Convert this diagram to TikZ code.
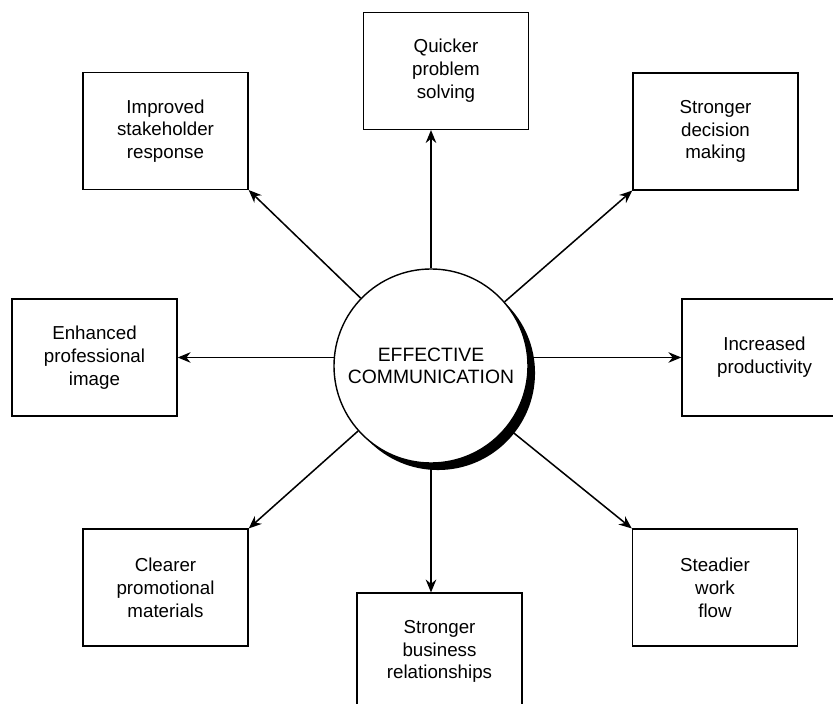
\documentclass[tikz,border=0pt]{standalone}
\usepackage{fontspec}
\setmainfont{Liberation Sans}
\usetikzlibrary{arrows.meta}
\usetikzlibrary{shadows}

\begin{document}
\begin{tikzpicture}[x=0.03cm,y=-0.03cm,
  box/.style={draw,line width=1.2pt,minimum width=4.95cm,minimum height=3.5cm,
    align=center,inner sep=0pt,font=\fontsize{16}{19.5}\selectfont},
  arr/.style={line width=1.3pt,-{Stealth[length=11pt,width=9pt]}}]
\clip (0,0) rectangle (833,704);
% the hub
\node[circle,draw,fill=white,line width=1.2pt,minimum size=5.82cm,inner sep=0pt,
  align=center,font=\fontsize{16.5}{19}\selectfont,
  drop shadow={shadow xshift=6pt,shadow yshift=-6pt,fill=black,opacity=1}]
  (ec) at (431,366) {EFFECTIVE\\COMMUNICATION};

% the eight outcomes
\node[box] (isr) at (165.5,131) {Improved\\stakeholder\\response};
\node[box] (qps) at (446,71) {Quicker\\problem\\solving};
\node[box] (sdm) at (715.5,131.5) {Stronger\\decision\\making};
\node[box] (ees) at (94.5,357.5) {Enhanced\\professional\\image};
\node[box] (ipr) at (764.5,357.5) {Increased\\productivity};
\node[box] (cpm) at (165.5,587.5) {Clearer\\promotional\\materials};
\node[box] (swf) at (715,587.5) {Steadier\\work\\flow};
\node[box] (bsr) at (439.5,651.5) {Stronger\\business\\relationships};

\draw[arr] (ec) -- (ec |- qps.south);
\draw[arr] (ec) -- (isr.south east);
\draw[arr] (ec) -- (sdm.south west);
\draw[arr] (ec.175) -- (ec.175 -| ees.east);
\draw[arr] (ec.5) -- (ec.5 -| ipr.west);
\draw[arr] (ec) -- (cpm.north east);
\draw[arr] (ec) -- (swf.north west);
\draw[arr] (ec) -- (ec |- bsr.north);
\end{tikzpicture}
\end{document}
